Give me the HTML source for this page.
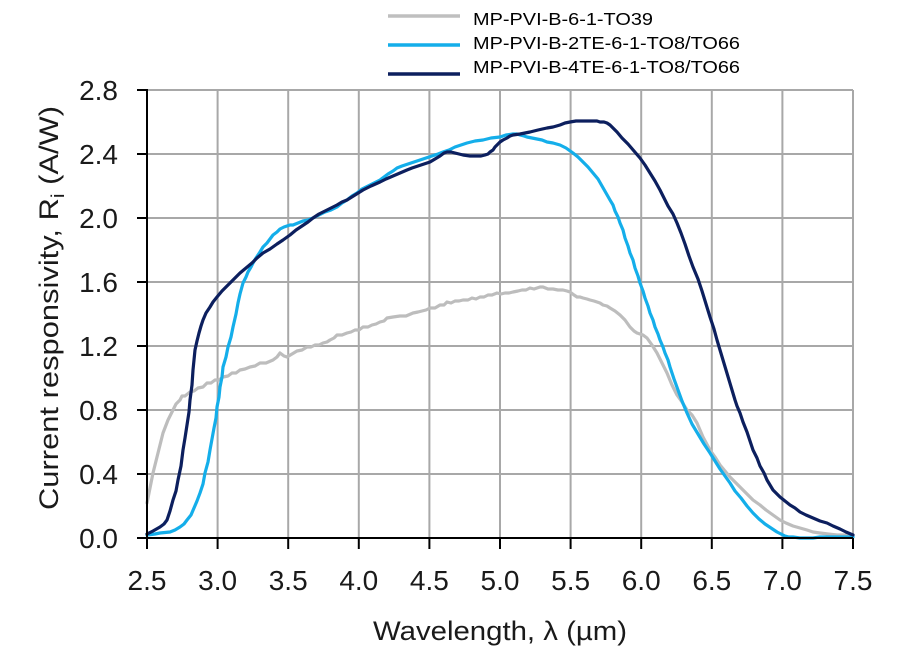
<!DOCTYPE html>
<html><head><meta charset="utf-8"><style>
html,body{margin:0;padding:0;background:#fff;}
svg{display:block;}
text{font-family:"Liberation Sans","DejaVu Sans",sans-serif;fill:#1a1a1a;}
</style></head><body>
<svg width="920" height="658" viewBox="0 0 920 658" xmlns="http://www.w3.org/2000/svg">
<rect width="920" height="658" fill="#fff"/>
<!-- legend -->
<line x1="388" y1="16" x2="460" y2="16" stroke="#bfbfbf" stroke-width="3.5"/>
<line x1="388" y1="45" x2="460" y2="45" stroke="#14aeea" stroke-width="3.5"/>
<line x1="388" y1="74" x2="460" y2="74" stroke="#0c1f5e" stroke-width="3.5"/>
<text x="473" y="25" font-size="17.5" textLength="180" lengthAdjust="spacingAndGlyphs" style="fill:#000">MP-PVI-B-6-1-TO39</text>
<text x="473" y="49" font-size="17.5" textLength="267" lengthAdjust="spacingAndGlyphs" style="fill:#000">MP-PVI-B-2TE-6-1-TO8/TO66</text>
<text x="473" y="73" font-size="17.5" textLength="267" lengthAdjust="spacingAndGlyphs" style="fill:#000">MP-PVI-B-4TE-6-1-TO8/TO66</text>
<!-- grid -->
<g stroke="#a8a8a8" stroke-width="2">
<line x1="147" y1="90" x2="853" y2="90"/>
<line x1="147" y1="154" x2="853" y2="154"/>
<line x1="147" y1="218" x2="853" y2="218"/>
<line x1="147" y1="282" x2="853" y2="282"/>
<line x1="147" y1="346" x2="853" y2="346"/>
<line x1="147" y1="410" x2="853" y2="410"/>
<line x1="147" y1="474" x2="853" y2="474"/>
<line x1="217.6" y1="90" x2="217.6" y2="538"/>
<line x1="288.2" y1="90" x2="288.2" y2="538"/>
<line x1="358.8" y1="90" x2="358.8" y2="538"/>
<line x1="429.4" y1="90" x2="429.4" y2="538"/>
<line x1="500" y1="90" x2="500" y2="538"/>
<line x1="570.6" y1="90" x2="570.6" y2="538"/>
<line x1="641.2" y1="90" x2="641.2" y2="538"/>
<line x1="711.8" y1="90" x2="711.8" y2="538"/>
<line x1="782.4" y1="90" x2="782.4" y2="538"/>
<line x1="853" y1="90" x2="853" y2="538"/>
</g>
<!-- series -->
<g fill="none" stroke-width="3.2" stroke-linejoin="round" stroke-linecap="round">
<polyline stroke="#bdbdbd" points="147,503 150,488 153,473 158,453 163,433 168,420 173,410 176,404 180,400 182,396 185,396 190,392 194,391 198,388 203,387 207,383 211,383 215,380 219,380 223,377 228,376 232,373 236,373 240,370 245,369 250,367 255,366 260,363 266,363 273,360 277,357 280,353 284,356 287,357 292,354 297,351 302,350 307,347 311,347 315,345 319,345 323,343 327,342 330,340 334,338 337,335 342,335 347,333 351,332 355,330 359,330 363,327 368,327 372,325 376,324 380,322 384,321 387,318 393,317 400,316 406,316 413,313 418,312 422,311 426,310 430,308 435,308 440,305 444,305 447,302 451,303 455,301 459,301 463,300 468,300 472,298 476,299 480,297 484,297 488,295 492,295 497,293 501,294 505,293 509,293 513,292 518,291 522,290 526,290 530,288 534,289 537,288 540,287 543,287 548,289 553,289 558,290 563,290 567,291 570,292 574,295 577,297 580,297 583,298 587,299 590,300 594,301 597,302 600,303 603,305 607,306 610,308 615,311 620,315 625,320 630,327 634,331 637,333 640,334 643,335 647,338 652,345 657,353 662,363 667,373 672,385 677,395 682,402 687,410 692,415 697,423 703,437 710,450 715,457 720,465 725,471 730,477 736,483 742,489 748,495 753,500 760,505 766,510 773,515 780,520 786,523 793,526 800,528 807,530 813,532 820,533 828,534 837,535 845,535 853,536"/>
<polyline stroke="#14aeea" points="147,535 155,534 160,533 170,532 175,530 180,527 184,524 187,520 191,515 194,508 197,501 200,493 203,484 205,473 208,462 210,450 212,439 214,428 216,418 217,407 219,397 220,387 222,377 223,367 226,357 228,347 231,337 233,327 236,314 238,303 240,294 243,283 246,277 248,272 251,267 253,263 256,258 260,252 263,247 267,243 270,239 273,235 277,232 280,229 284,227 287,226 290,225 293,225 298,223 303,221 308,220 313,218 319,215 325,212 331,210 337,207 342,203 347,200 352,196 357,193 362,189 368,186 374,183 380,180 384,177 388,174 393,171 397,168 402,166 408,164 414,162 420,160 426,158 432,156 438,154 443,152 449,150 455,147 461,145 467,143 475,141 483,140 491,138 500,137 506,135 513,134 517,134 520,135 524,136 527,137 532,138 537,139 542,140 547,142 553,143 560,145 566,148 573,153 578,157 583,162 588,167 593,173 598,179 602,186 606,193 610,200 613,205 615,211 618,217 620,223 623,230 625,238 628,246 630,253 633,260 635,268 638,276 640,283 643,291 645,298 648,306 650,313 653,320 655,327 658,334 660,340 663,347 665,353 668,360 670,367 674,379 678,390 682,401 687,413 692,424 698,434 704,444 710,453 715,461 720,469 725,476 730,483 735,491 741,498 747,506 753,513 759,519 765,524 771,528 777,532 781,534 785,536 789,537 793,537 800,538 807,538 813,538 820,537 828,537 835,537 845,537 853,537"/>
<polyline stroke="#0c1f5e" points="147,534 153,531 160,527 164,524 167,520 170,511 173,500 176,491 178,480 181,466 183,450 185,438 187,425 189,412 190,400 192,385 193,370 194,360 195,350 197,341 199,333 201,326 203,320 206,313 210,307 213,302 217,297 222,291 228,285 234,279 240,273 246,268 252,263 257,258 263,253 270,249 277,244 283,240 290,235 296,230 302,226 308,222 313,218 319,214 325,211 331,208 337,205 342,202 347,200 355,195 363,190 371,186 380,182 386,179 393,176 400,173 407,170 412,168 418,166 424,164 430,162 435,159 440,156 444,153 447,152 451,152 455,153 459,154 463,155 470,156 477,156 481,156 485,155 488,154 490,152 493,150 495,147 498,144 500,142 503,140 507,138 510,136 513,135 520,134 530,132 538,130 547,128 553,127 560,125 565,123 570,122 576,121 583,121 588,121 593,121 597,121 600,122 604,122 607,123 610,125 612,127 615,130 617,132 622,138 628,144 634,151 640,158 645,165 650,173 655,181 660,190 664,198 668,206 673,214 677,223 681,233 685,244 689,256 693,267 698,279 702,291 706,304 710,317 714,329 717,340 720,350 723,360 726,370 729,380 732,390 735,400 737,406 740,413 743,422 747,432 750,441 753,450 757,458 760,466 764,473 767,480 770,485 773,490 777,494 780,497 785,501 790,505 795,508 800,512 806,515 813,518 820,521 827,523 833,526 840,529 846,532 853,535"/>
</g>
<!-- axes -->
<g stroke="#000" stroke-width="2">
<line x1="147" y1="89" x2="147" y2="539"/>
<line x1="146" y1="538" x2="853" y2="538"/>
<line x1="137" y1="90" x2="147" y2="90"/>
<line x1="137" y1="154" x2="147" y2="154"/>
<line x1="137" y1="218" x2="147" y2="218"/>
<line x1="137" y1="282" x2="147" y2="282"/>
<line x1="137" y1="346" x2="147" y2="346"/>
<line x1="137" y1="410" x2="147" y2="410"/>
<line x1="137" y1="474" x2="147" y2="474"/>
<line x1="137" y1="538" x2="147" y2="538"/>
<line x1="147" y1="538" x2="147" y2="549"/>
<line x1="217.6" y1="538" x2="217.6" y2="549"/>
<line x1="288.2" y1="538" x2="288.2" y2="549"/>
<line x1="358.8" y1="538" x2="358.8" y2="549"/>
<line x1="429.4" y1="538" x2="429.4" y2="549"/>
<line x1="500" y1="538" x2="500" y2="549"/>
<line x1="570.6" y1="538" x2="570.6" y2="549"/>
<line x1="641.2" y1="538" x2="641.2" y2="549"/>
<line x1="711.8" y1="538" x2="711.8" y2="549"/>
<line x1="782.4" y1="538" x2="782.4" y2="549"/>
<line x1="853" y1="538" x2="853" y2="549"/>
</g>
<!-- y tick labels -->
<g font-size="28" text-anchor="end">
<text x="118" y="100">2.8</text>
<text x="118" y="164">2.4</text>
<text x="118" y="228">2.0</text>
<text x="118" y="292">1.6</text>
<text x="118" y="356">1.2</text>
<text x="118" y="420">0.8</text>
<text x="118" y="484">0.4</text>
<text x="118" y="548">0.0</text>
</g>
<!-- x tick labels -->
<g font-size="28" text-anchor="middle">
<text x="147" y="590">2.5</text>
<text x="217.6" y="590">3.0</text>
<text x="288.2" y="590">3.5</text>
<text x="358.8" y="590">4.0</text>
<text x="429.4" y="590">4.5</text>
<text x="500" y="590">5.0</text>
<text x="570.6" y="590">5.5</text>
<text x="641.2" y="590">6.0</text>
<text x="711.8" y="590">6.5</text>
<text x="782.4" y="590">7.0</text>
<text x="853" y="590">7.5</text>
</g>
<!-- axis titles -->
<text x="500" y="640" font-size="27" text-anchor="middle" textLength="254" lengthAdjust="spacingAndGlyphs">Wavelength, λ (µm)</text>
<text transform="translate(58,308) rotate(-90)" font-size="27" text-anchor="middle" textLength="404" lengthAdjust="spacingAndGlyphs">Current responsivity, R<tspan font-size="18" dy="6">i</tspan><tspan dy="-6"> (A/W)</tspan></text>
</svg>
</body></html>
